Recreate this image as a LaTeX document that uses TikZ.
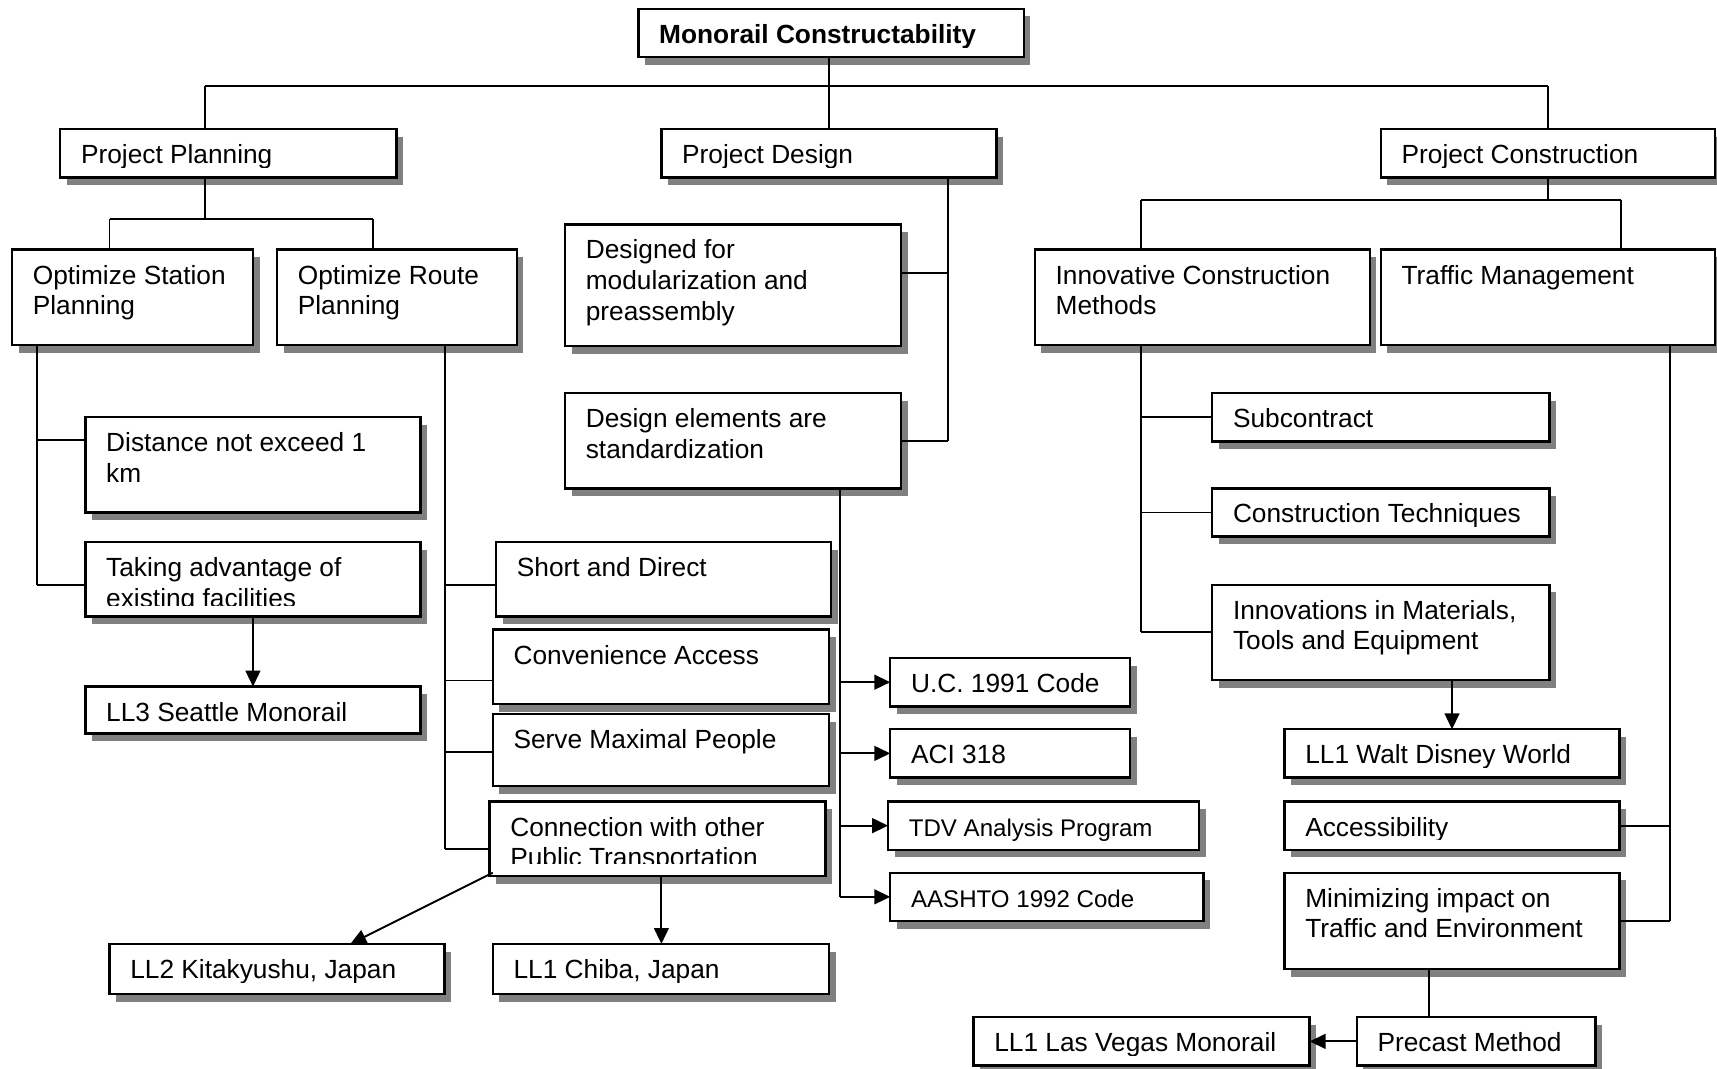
\documentclass[tikz,border=0pt]{standalone}
\usepackage{fontspec}
\setmainfont{Liberation Sans}
\usetikzlibrary{arrows.meta}

\definecolor{shadowgray}{RGB}{128,128,128}

% text blocks: first baseline is the block's baseline
\newcommand\lines[1]{\begin{tabular}[t]{@{}l@{}}#1\end{tabular}}
\newcommand\fntn{\fontsize{24}{28}\selectfont}
\newcommand\fnts{\fontsize{22}{28}\selectfont}
\newcommand\fntb{\bfseries\fontsize{24}{28}\selectfont}

\tikzset{
  boxframe/.style={draw, line width=2.2pt, fill=white, inner sep=0pt, outer sep=0pt},
  boxshadow/.style={fill=shadowgray},
  boxtext/.style={inner sep=0pt, outer sep=0pt},
  link/.style={line width=1.7pt},
  arr/.style={link, -{Triangle[length=14.5pt,width=13.5pt]}},
}

% #1 name, #2 x1, #3 y1, #4 x2, #5 y2, #6 visible text height, #7 font, #8 text
\newcommand\bx[8]{%
  \fill[boxshadow] (#2+6,#3+7) rectangle (#4+6,#5+7);
  \node[boxframe, minimum width={(#4-#2)*1pt}, minimum height={(#5-#3)*1pt},
        anchor=north west] (#1) at (#2,#3) {};
  \begin{scope}
    \clip (#2,#3) rectangle (#4,#3+#6);
    \node[boxtext, font=#7, anchor=base west] (#1-t) at (#2+19,#3+31.5) {\lines{#8}};
  \end{scope}
}

\begin{document}
\begin{tikzpicture}[x=1pt, y=-1pt]
\useasboundingbox (0,0) rectangle (1568,976);

% ---- boxes ----
\bx{title}{583}{8}{935}{52}{35}{\fntb}{Monorail Constructability}
\bx{pp}{55}{118}{362}{162}{35}{\fntn}{Project Planning}
\bx{pd}{604}{118}{910}{162}{35}{\fntn}{Project Design}
\bx{pc}{1261}{118}{1566}{162}{35}{\fntn}{Project Construction}

\bx{osp}{11}{228}{231}{315}{87}{\fntn}{Optimize Station\\Planning}
\bx{orp}{253}{228}{472}{315}{87}{\fntn}{Optimize Route\\Planning}
\bx{dmod}{516}{205}{823}{316}{111}{\fntn}{Designed for\\modularization and\\preassembly}
\bx{icm}{945}{228}{1251}{315}{87}{\fntn}{Innovative Construction\\Methods}
\bx{tm}{1261}{228}{1566}{315}{87}{\fntn}{Traffic Management}

\bx{dstd}{516}{359}{823}{446}{87}{\fntn}{Design elements are\\standardization}
\bx{dist}{78}{381}{384}{468}{87}{\fntn}{Distance not exceed 1\\km}
\bx{take}{78}{495}{384}{563}{58}{\fntn}{Taking advantage of\\existing facilities}
\bx{ll3}{78}{627}{384}{670}{35}{\fntn}{LL3 Seattle Monorail}

\bx{short}{453}{495}{759}{563}{68}{\fntn}{Short and Direct}
\bx{conv}{450}{575}{757}{643}{68}{\fntn}{Convenience Access}
\bx{serve}{450}{652}{757}{718}{66}{\fntn}{Serve Maximal People}
\bx{conn}{447}{732}{754}{800}{57}{\fntn}{Connection with other\\Public Transportation}
\bx{ll2}{100}{862}{406}{908}{35}{\fntn}{LL2 Kitakyushu, Japan}
\bx{chiba}{450}{862}{757}{908}{35}{\fntn}{LL1 Chiba, Japan}

\bx{uc}{813}{601}{1032}{645}{44}{\fntn}{U.C. 1991 Code}
\bx{aci}{813}{666}{1032}{710}{44}{\fntn}{ACI 318}
\bx{tdv}{811}{732}{1095}{776}{44}{\fnts}{TDV Analysis Program}
\bx{aashto}{813}{797}{1099}{841}{44}{\fnts}{AASHTO 1992 Code}

\bx{sub}{1107}{359}{1415}{403}{44}{\fntn}{Subcontract}
\bx{tech}{1107}{446}{1415}{490}{35}{\fntn}{Construction Techniques}
\bx{innov}{1107}{534}{1415}{621}{87}{\fntn}{Innovations in Materials,\\Tools and Equipment}
\bx{wdw}{1173}{666}{1479}{710}{35}{\fntn}{LL1 Walt Disney World}
\bx{acc}{1173}{732}{1479}{776}{35}{\fntn}{Accessibility}
\bx{mini}{1173}{797}{1479}{885}{88}{\fntn}{Minimizing impact on\\Traffic and Environment}
\bx{pre}{1239}{929}{1457}{973}{44}{\fntn}{Precast Method}
\bx{lv}{889}{929}{1196}{973}{35}{\fntn}{LL1 Las Vegas Monorail}

% ---- top level ----
\coordinate (tj) at (757,78.5);
\coordinate (bl) at (187,78.5);
\coordinate (br) at (1414,78.5);
\draw[link] (title.south -| tj) -- (tj |- pd.north);
\draw[link] (bl) -- (br);
\draw[link] (bl) -- (bl |- pp.north);
\draw[link] (br) -- (br |- pc.north);

% ---- planning ----
\coordinate (pj) at (187,200);
\coordinate (pjl) at (100,200);
\coordinate (pjr) at (341,200);
\draw[link] (pp.south -| pj) -- (pj);
\draw[link] (pjl) -- (pjr);
\draw[link] (pjl) -- (pjl |- osp.north);
\draw[link] (pjr) -- (pjr |- orp.north);

\coordinate (sj1) at (34,402);
\coordinate (sj2) at (34,534);
\draw[link] (osp.south -| sj2) -- (sj2);
\draw[link] (sj1) -- (dist.west |- sj1);
\draw[link] (sj2) -- (take.west |- sj2);
\coordinate (tx) at (231,0);
\draw[arr] (take.south -| tx) -- (ll3.north -| tx);

\coordinate (rj1) at (406,534);
\coordinate (rj2) at (406,621.5);
\coordinate (rj3) at (406,687);
\coordinate (rj4) at (406,775);
\draw[link] (orp.south -| rj4) -- (rj4);
\draw[link] (rj1) -- (short.west |- rj1);
\draw[link] (rj2) -- (conv.west |- rj2);
\draw[link] (rj3) -- (serve.west |- rj3);
\draw[link] (rj4) -- (conn.west |- rj4);

\coordinate (lx) at (320,0);
\coordinate (cx) at (604,0);
\draw[arr] ([shift={(3,-3)}]conn.south west) -- (ll2.north -| lx);
\draw[arr] (conn.south -| cx) -- (chiba.north -| cx);

% ---- design ----
\coordinate (dj) at (866,249);
\draw[link] (pd.south -| dj) -- (dj |- dstd.east);
\draw[link] (dmod.east |- dj) -- (dj);
\draw[link] (dstd.east) -- (dstd.east -| dj);

\coordinate (ex) at (767,0);
\draw[link] (dstd.south -| ex) -- (ex |- aashto.west);
\foreach \b in {uc,aci,tdv,aashto}
  \draw[arr] (ex |- \b.west) -- (\b.west);

% ---- construction ----
\coordinate (cj) at (1414,183);
\coordinate (cjl) at (1042,183);
\coordinate (cjr) at (1480,183);
\draw[link] (pc.south -| cj) -- (cj);
\draw[link] (cjl) -- (cjr);
\draw[link] (cjl) -- (cjl |- icm.north);
\draw[link] (cjr) -- (cjr |- tm.north);

\coordinate (ix) at (1042,0);
\draw[link] (icm.south -| ix) -- (ix |- innov.west);
\foreach \b in {sub,tech,innov}
  \draw[link] (ix |- \b.west) -- (\b.west);

\coordinate (wx) at (1326,0);
\draw[arr] (innov.south -| wx) -- (wdw.north -| wx);

\coordinate (mx2) at (1525,0);
\draw[link] (tm.south -| mx2) -- (mx2 |- mini.east);
\draw[link] (acc.east) -- (acc.east -| mx2);
\draw[link] (mini.east) -- (mini.east -| mx2);

\coordinate (mx) at (1305,0);
\draw[link] (mini.south -| mx) -- (pre.north -| mx);
\draw[arr] (pre.west) -- (lv.east);

\end{tikzpicture}
\end{document}
